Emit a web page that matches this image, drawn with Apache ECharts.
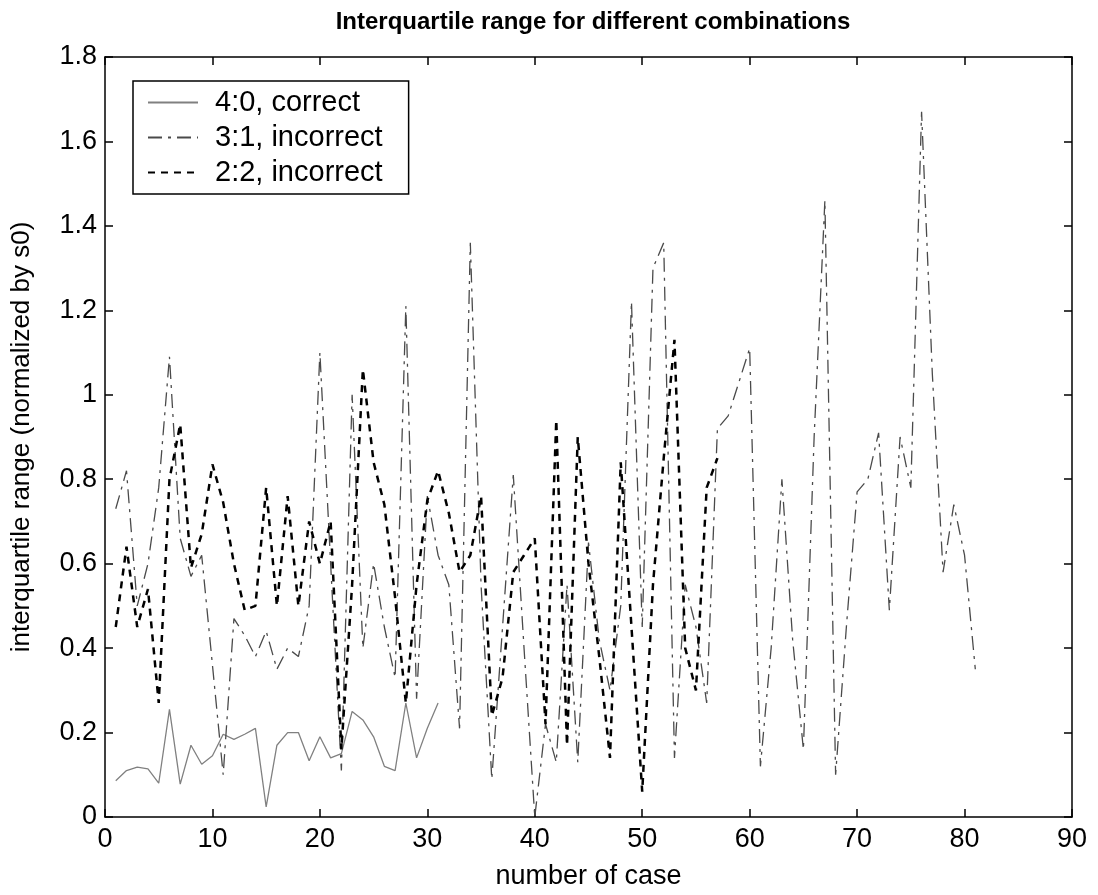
<!DOCTYPE html>
<html>
<head>
<meta charset="utf-8">
<script src="https://cdn.jsdelivr.net/npm/echarts@6/dist/echarts.min.js"></script>
<style>
html,body{margin:0;padding:0;background:#fff;}
#chart{width:1098px;height:895px;}
</style>
</head>
<body>
<div id="chart"></div>
<script>
// case numbers (x values)
const caseNumbers = [1,2,3,4,5,6,7,8,9,10,11,12,13,14,15,16,17,18,19,20,21,22,23,24,25,26,27,28,29,30,
  31,32,33,34,35,36,37,38,39,40,41,42,43,44,45,46,47,48,49,50,51,52,53,54,55,56,57,58,59,60,
  61,62,63,64,65,66,67,68,69,70,71,72,73,74,75,76,77,78,79,80,81];

// 4:0, correct
const correct40 = [0.086,0.11,0.118,0.114,0.08,0.255,0.078,0.17,0.125,0.145,0.196,0.184,0.196,0.21,0.024,
  0.17,0.2,0.2,0.133,0.19,0.14,0.15,0.25,0.23,0.19,0.12,0.11,0.27,0.14,0.21,0.27];

// 3:1, incorrect
const incorrect31 = [0.73,0.82,0.50,0.60,0.78,1.09,0.66,0.57,0.62,0.36,0.10,0.47,0.43,0.38,0.44,0.35,0.40,0.38,0.50,1.10,
  0.60,0.11,1.00,0.40,0.60,0.45,0.33,1.21,0.28,0.76,0.62,0.55,0.21,1.36,0.55,0.09,0.45,0.81,0.40,0.0,
  0.22,0.13,0.55,0.13,0.65,0.42,0.30,0.50,1.22,0.45,1.30,1.36,0.14,0.55,0.45,0.27,0.92,0.95,1.03,1.11,
  0.12,0.40,0.80,0.42,0.16,0.90,1.46,0.10,0.45,0.77,0.80,0.91,0.49,0.90,0.78,1.67,1.05,0.58,0.74,0.62,0.35];

// 2:2, incorrect
const incorrect22 = [0.45,0.64,0.45,0.54,0.27,0.80,0.93,0.59,0.67,0.835,0.745,0.60,0.49,0.50,0.78,0.50,0.76,0.50,0.70,0.60,
  0.70,0.16,0.55,1.06,0.84,0.74,0.52,0.27,0.55,0.75,0.82,0.72,0.58,0.62,0.76,0.24,0.33,0.58,0.62,0.66,
  0.22,0.94,0.17,0.90,0.60,0.38,0.14,0.84,0.45,0.06,0.55,0.85,1.13,0.40,0.30,0.78,0.85];

const seriesNames = ['4:0, correct', '3:1, incorrect', '2:2, incorrect'];
const xTicks = {min: 0, max: 90, interval: 10};
const yTicks = {min: 0, max: 1.8, interval: 0.2};

function pairs(vals){ return vals.map((v,i)=>[caseNumbers[i], v]); }

const FONT = 'Liberation Sans, Arial, sans-serif';
const chart = echarts.init(document.getElementById('chart'), null, {renderer:'canvas'});

function axisCommon(){
  return {
    axisLine:{show:true, onZero:false, lineStyle:{color:'#000', width:1.5}},
    axisTick:{show:true, inside:true, length:8, lineStyle:{color:'#000', width:1.5}},
    splitLine:{show:false}
  };
}

chart.setOption({
  animation:false,
  backgroundColor:'#fff',
  title:{
    text:'Interquartile range for different combinations',
    left:588, top:5, textAlign:'center',
    textStyle:{fontFamily:FONT, fontSize:24, fontWeight:'bold', color:'#000'}
  },
  grid:{left:105, right:26, top:57, bottom:77, containLabel:false},
  legend:{
    orient:'vertical', left:133, top:81,
    data:seriesNames,
    backgroundColor:'#fff', borderColor:'#000', borderWidth:1.5,
    padding:[7,26,7,14], itemGap:6, itemWidth:50, itemHeight:28,
    itemStyle:{opacity:0},
    textStyle:{fontFamily:FONT, fontSize:29, color:'#000', padding:[0,0,0,12]}
  },
  xAxis:[
    Object.assign({
      type:'value', position:'bottom', min:xTicks.min, max:xTicks.max, interval:xTicks.interval,
      name:'number of case', nameLocation:'middle', nameGap:46,
      nameTextStyle:{fontFamily:FONT, fontSize:27, color:'#000'},
      axisLabel:{fontFamily:FONT, fontSize:27, color:'#000', margin:9}
    }, axisCommon()),
    Object.assign({
      type:'value', position:'top', min:xTicks.min, max:xTicks.max, interval:xTicks.interval,
      axisLabel:{show:false}
    }, axisCommon())
  ],
  yAxis:[
    Object.assign({
      type:'value', position:'left', min:yTicks.min, max:yTicks.max, interval:yTicks.interval,
      name:'interquartile range (normalized by s0)', nameLocation:'middle', nameGap:70, nameRotate:90,
      nameTextStyle:{fontFamily:FONT, fontSize:26, color:'#000'},
      axisLabel:{fontFamily:FONT, fontSize:27, color:'#000', margin:8}
    }, axisCommon()),
    Object.assign({
      type:'value', position:'right', min:yTicks.min, max:yTicks.max, interval:yTicks.interval,
      axisLabel:{show:false}
    }, axisCommon())
  ],
  series:[
    {name:seriesNames[0], type:'line', xAxisIndex:0, yAxisIndex:0, symbol:'none', data:pairs(correct40),
     lineStyle:{color:'#808080', width:1.3, type:'solid'}, itemStyle:{color:'#808080'}},
    {name:seriesNames[1], type:'line', xAxisIndex:0, yAxisIndex:0, symbol:'none', data:pairs(incorrect31),
     lineStyle:{color:'#4a4a4a', width:1.3, type:[14,6,3,6]}, itemStyle:{color:'#4a4a4a'}},
    {name:seriesNames[2], type:'line', xAxisIndex:0, yAxisIndex:0, symbol:'none', data:pairs(incorrect22),
     lineStyle:{color:'#000', width:2.5, type:[7,6]}, itemStyle:{color:'#000'}}
  ]
});
</script>
</body>
</html>
